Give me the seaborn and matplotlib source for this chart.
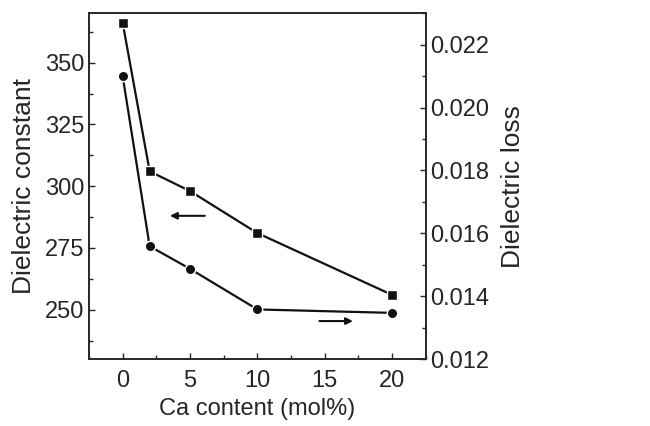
import matplotlib
matplotlib.use("Agg")
import matplotlib.pyplot as plt
import seaborn as sns
import pandas as pd
from matplotlib.ticker import MultipleLocator, FormatStrFormatter

ca_content = [0, 2, 5, 10, 20]
diel_constant = [366, 306, 298, 281, 256]
diel_loss = [0.02099, 0.01559, 0.01487, 0.01358, 0.01347]

sns.set_style("ticks")
plt.rcParams['font.family'] = ['Liberation Sans', 'DejaVu Sans']

df = pd.DataFrame({"x": ca_content, "eps": diel_constant, "loss": diel_loss})

fig, ax = plt.subplots(figsize=(6.5, 4.26), dpi=100)
fig.subplots_adjust(left=0.137, right=0.655, top=0.969, bottom=0.157)
ax2 = ax.twinx()

sns.lineplot(data=df, x="x", y="eps", ax=ax, color="#111111", lw=1.6,
             marker="s", markersize=6.5, markeredgecolor="white", markeredgewidth=1.0)
sns.lineplot(data=df, x="x", y="loss", ax=ax2, color="#111111", lw=1.6,
             marker="o", markersize=7.5, markeredgecolor="white", markeredgewidth=1.0)

ax.set_xlim(-2.5, 22.5)
ax.set_ylim(230, 370)
ax2.set_ylim(0.012, 0.023)

ax.xaxis.set_major_locator(MultipleLocator(5))
ax.xaxis.set_minor_locator(MultipleLocator(2.5))
ax.yaxis.set_major_locator(MultipleLocator(25))
ax.yaxis.set_minor_locator(MultipleLocator(12.5))
ax2.yaxis.set_major_locator(MultipleLocator(0.002))
ax2.yaxis.set_minor_locator(MultipleLocator(0.001))
ax2.yaxis.set_major_formatter(FormatStrFormatter('%.3f'))

for a in (ax, ax2):
    a.tick_params(which="both", direction="in", labelsize=17, width=1)
    a.tick_params(which="major", length=4)
    a.tick_params(which="minor", length=3)
    for s in a.spines.values():
        s.set_linewidth(1.2)
        s.set_visible(True)
ax.tick_params(axis="x", pad=8)

ax.set_xlabel("Ca content (mol%)", fontsize=17, labelpad=4)
ax.set_ylabel("Dielectric constant", fontsize=19, labelpad=6)
ax2.set_ylabel("Dielectric loss", fontsize=19, labelpad=8)

ax.annotate("", xy=(3.3, 288), xytext=(6.3, 288),
            arrowprops=dict(arrowstyle="-|>", color="#111111", lw=1.5, mutation_scale=10))
ax.annotate("", xy=(17.3, 245.4), xytext=(14.4, 245.4),
            arrowprops=dict(arrowstyle="-|>", color="#111111", lw=1.5, mutation_scale=10))

fig.savefig("out.png", dpi=100)
